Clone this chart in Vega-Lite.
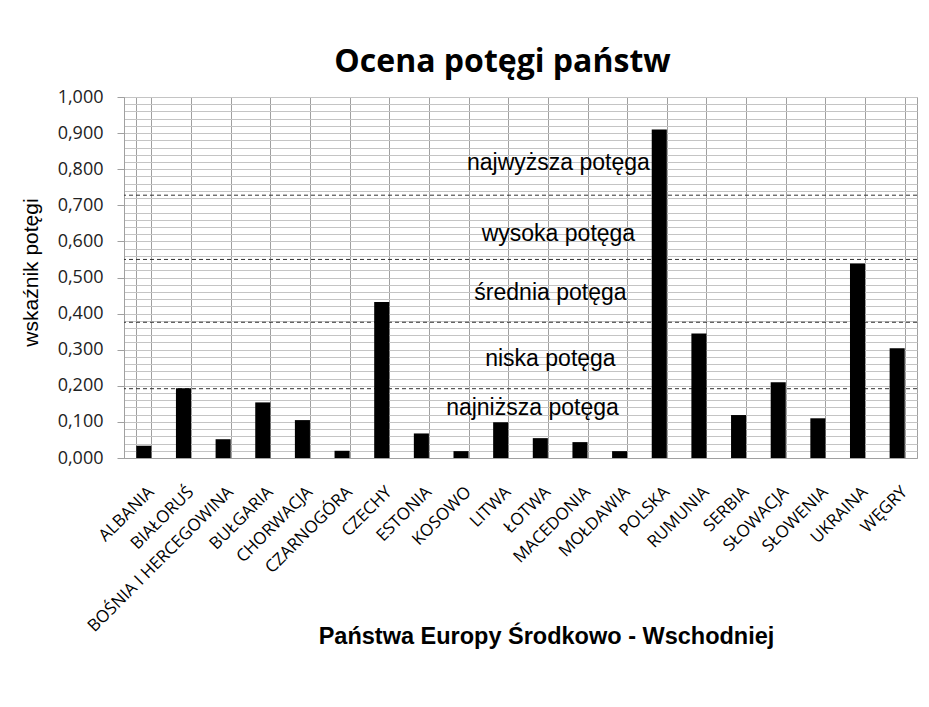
{
  "$schema": "https://vega.github.io/schema/vega-lite/v6.json",
  "width": 793,
  "height": 361,
  "autosize": "none",
  "padding": {"left": 124, "top": 97, "right": 12, "bottom": 249},
  "background": "white",
  "config": {
    "locale": {"number": {"decimal": ",", "thousands": " ", "grouping": [3], "currency": ["", ""]}},
    "view": {"stroke": "#a0a0a0"}
  },
  "title": {
    "text": "Ocena potęgi państw",
    "font": "Open Sans",
    "fontSize": 32,
    "fontWeight": "bold",
    "color": "black",
    "baseline": "alphabetic",
    "anchor": "middle",
    "offset": -16,
    "dx": -18
  },
  "datasets": {
    "bars": [
      {"kraj": "ALBANIA", "v": 0.034},
      {"kraj": "BIAŁORUŚ", "v": 0.193},
      {"kraj": "BOŚNIA I HERCEGOWINA", "v": 0.052},
      {"kraj": "BUŁGARIA", "v": 0.154},
      {"kraj": "CHORWACJA", "v": 0.105},
      {"kraj": "CZARNOGÓRA", "v": 0.020},
      {"kraj": "CZECHY", "v": 0.432},
      {"kraj": "ESTONIA", "v": 0.068},
      {"kraj": "KOSOWO", "v": 0.019},
      {"kraj": "LITWA", "v": 0.099},
      {"kraj": "ŁOTWA", "v": 0.055},
      {"kraj": "MACEDONIA", "v": 0.044},
      {"kraj": "MOŁDAWIA", "v": 0.019},
      {"kraj": "POLSKA", "v": 0.910},
      {"kraj": "RUMUNIA", "v": 0.345},
      {"kraj": "SERBIA", "v": 0.119},
      {"kraj": "SŁOWACJA", "v": 0.210},
      {"kraj": "SŁOWENIA", "v": 0.110},
      {"kraj": "UKRAINA", "v": 0.539},
      {"kraj": "WĘGRY", "v": 0.304}
    ],
    "levels": [{"v": 0.728}, {"v": 0.550}, {"v": 0.376}, {"v": 0.192}],
    "names": [
      {"t": "najwyższa potęga", "v": 0.817, "kraj": "MACEDONIA", "g": "a"},
      {"t": "wysoka potęga", "v": 0.62, "kraj": "MACEDONIA", "g": "a"},
      {"t": "średnia potęga", "v": 0.457, "kraj": "MACEDONIA", "g": "b"},
      {"t": "niska potęga", "v": 0.274, "kraj": "MACEDONIA", "g": "b"},
      {"t": "najniższa potęga", "v": 0.139, "kraj": "MACEDONIA", "g": "c"}
    ]
  },
  "encoding": {
    "x": {
      "field": "kraj",
      "type": "nominal",
      "scale": {
        "domain": ["ALBANIA", "BIAŁORUŚ", "BOŚNIA I HERCEGOWINA", "BUŁGARIA", "CHORWACJA", "CZARNOGÓRA", "CZECHY", "ESTONIA", "KOSOWO", "LITWA", "ŁOTWA", "MACEDONIA", "MOŁDAWIA", "POLSKA", "RUMUNIA", "SERBIA", "SŁOWACJA", "SŁOWENIA", "UKRAINA", "WĘGRY"],
        "paddingInner": 0.62,
        "paddingOuter": 0.31
      },
      "axis": {
        "title": "Państwa Europy  Środkowo - Wschodniej",
        "titleFont": "Liberation Sans",
        "titleFontSize": 23.5,
        "titleFontWeight": "bold",
        "titleColor": "black",
        "titleX": 422,
        "titleY": 185,
        "titleAlign": "center",
        "titleBaseline": "alphabetic",
        "titleAnchor": null,
        "grid": true,
        "gridColor": "#a0a0a0",
        "tickBand": "extent",
        "ticks": false,
        "domainColor": "#a0a0a0",
        "labelFont": "Open Sans",
        "labelFontSize": 17,
        "labelColor": "black",
        "labelAngle": -45,
        "labelAlign": "right",
        "labelBaseline": "middle",
        "labelPadding": 31,
        "labelOffset": 7,
        "labelLimit": 0
      }
    },
    "y": {
      "field": "v",
      "type": "quantitative",
      "scale": {"domain": [0, 1], "nice": false},
      "axis": {
        "title": "wskaźnik potęgi",
        "titleFont": "Liberation Sans",
        "titleFontSize": 21,
        "titleFontWeight": "normal",
        "titleColor": "black",
        "titleAngle": -90,
        "titleX": -93,
        "titleY": 175,
        "titleAlign": "center",
        "titleBaseline": "middle",
        "titleAnchor": null,
        "values": [0, 0.02, 0.04, 0.06, 0.08, 0.1, 0.12, 0.14, 0.16, 0.18, 0.2, 0.22, 0.24, 0.26, 0.28, 0.3, 0.32, 0.34, 0.36, 0.38, 0.4, 0.42, 0.44, 0.46, 0.48, 0.5, 0.52, 0.54, 0.56, 0.58, 0.6, 0.62, 0.64, 0.66, 0.68, 0.7, 0.72, 0.74, 0.76, 0.78, 0.8, 0.82, 0.84, 0.86, 0.88, 0.9, 0.92, 0.94, 0.96, 0.98, 1],
        "format": ".3f",
        "labelExpr": "abs(datum.value*10 - round(datum.value*10)) < 0.001 ? datum.label : ''",
        "labelOverlap": false,
        "labelFont": "Open Sans",
        "labelFontSize": 18,
        "labelColor": "#222",
        "labelPadding": 14,
        "tickSize": 7,
        "tickColor": "#a0a0a0",
        "tickOpacity": {"condition": {"test": "abs(datum.value*10 - round(datum.value*10)) < 0.001", "value": 1}, "value": 0},
        "grid": true,
        "gridColor": "#c4c4c4",
        "domainColor": "#a0a0a0"
      }
    }
  },
  "layer": [
    {
      "data": {"name": "levels"},
      "mark": {"type": "rule", "color": "#333", "strokeDash": [4, 3], "strokeWidth": 1},
      "encoding": {"x": null, "y": {"field": "v", "type": "quantitative"}}
    },
    {
      "data": {"name": "bars"},
      "mark": {"type": "bar", "color": "black"}
    },
    {
      "data": {"name": "names"},
      "transform": [{"filter": "datum.g == 'a'"}],
      "mark": {"type": "text", "font": "Liberation Sans", "fontSize": 23, "color": "black", "align": "center", "baseline": "middle", "dx": -14},
      "encoding": {
        "x": {"field": "kraj", "type": "nominal", "bandPosition": 0},
        "text": {"field": "t"}
      }
    },
    {
      "data": {"name": "names"},
      "transform": [{"filter": "datum.g == 'b'"}],
      "mark": {"type": "text", "font": "Liberation Sans", "fontSize": 23, "color": "black", "align": "center", "baseline": "middle", "dx": -22},
      "encoding": {
        "x": {"field": "kraj", "type": "nominal", "bandPosition": 0},
        "text": {"field": "t"}
      }
    },
    {
      "data": {"name": "names"},
      "transform": [{"filter": "datum.g == 'c'"}],
      "mark": {"type": "text", "font": "Liberation Sans", "fontSize": 23, "color": "black", "align": "center", "baseline": "middle", "dx": -40},
      "encoding": {
        "x": {"field": "kraj", "type": "nominal", "bandPosition": 0},
        "text": {"field": "t"}
      }
    }
  ]
}
